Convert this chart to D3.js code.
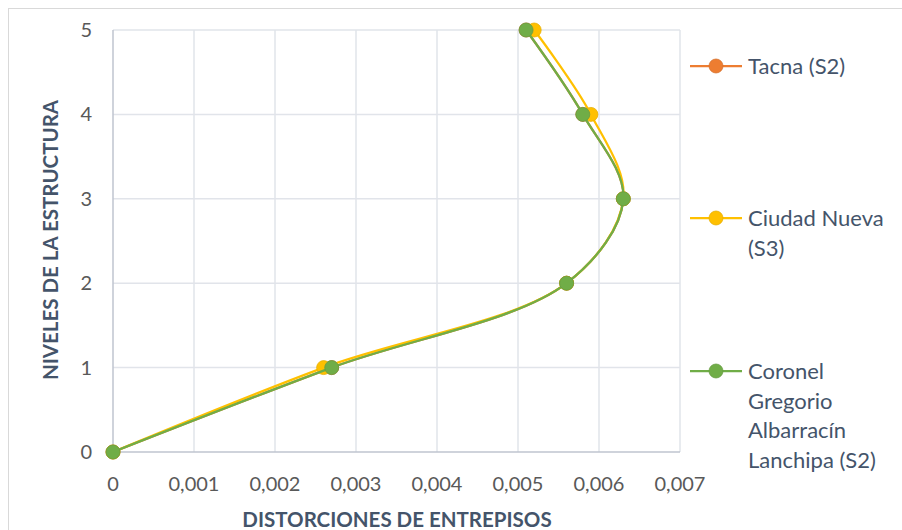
<!DOCTYPE html>
<html><head><meta charset="utf-8">
<script src="https://cdn.jsdelivr.net/npm/d3@7"></script>
<style>body{margin:0;background:#fff}svg{display:block}</style>
</head><body><svg id="c" width="902" height="530"></svg>
<script>
const levels = [0, 1, 2, 3, 4, 5];
const tacna = [0, 0.0027, 0.0056, 0.0063, 0.0058, 0.0051];
const ciudadNueva = [0, 0.0026, 0.0056, 0.0063, 0.0059, 0.0052];
const coronel = [0, 0.0027, 0.0056, 0.0063, 0.0058, 0.0051];
const seriesNames = [["Tacna (S2)"], ["Ciudad Nueva", "(S3)"], ["Coronel", "Gregorio", "Albarracín", "Lanchipa (S2)"]];
const seriesColors = ["#ED7D31", "#FFC000", "#70AD47"];
const xTicks = [0, 0.001, 0.002, 0.003, 0.004, 0.005, 0.006, 0.007];
const yTicks = [0, 1, 2, 3, 4, 5];
const xTitle = "DISTORCIONES DE ENTREPISOS";
const yTitle = "NIVELES DE LA ESTRUCTURA";

const svg = d3.select("#c");
const font = "Lato, 'Open Sans', sans-serif";
svg.append("rect").attr("x", 8.5).attr("y", 8.5).attr("width", 900).attr("height", 530)
  .attr("fill", "#fff").attr("stroke", "#D9D9D9");

const x = d3.scaleLinear().domain([0, 0.007]).range([113, 680]);
const y = d3.scaleLinear().domain([0, 5]).range([452, 30]);

const g = svg.append("g");
// gridlines
g.selectAll(".vg").data(xTicks.slice(1)).join("line")
  .attr("x1", d => x(d)).attr("x2", d => x(d)).attr("y1", y(0)).attr("y2", y(5))
  .attr("stroke", "#E1E4EA").attr("stroke-width", 1.5);
g.selectAll(".hg").data(yTicks.slice(1)).join("line")
  .attr("x1", x(0)).attr("x2", x(0.007)).attr("y1", d => y(d)).attr("y2", d => y(d))
  .attr("stroke", "#E1E4EA").attr("stroke-width", 1.5);
// axes lines
g.append("line").attr("x1", x(0)).attr("x2", x(0)).attr("y1", y(0)).attr("y2", y(5))
  .attr("stroke", "#BFC5CF").attr("stroke-width", 1.5);
g.append("line").attr("x1", x(0)).attr("x2", x(0.007)).attr("y1", y(0)).attr("y2", y(0))
  .attr("stroke", "#BFC5CF").attr("stroke-width", 1.5);

const fmt = d => d === 0 ? "0" : d3.format(".3f")(d).replace(".", ",");
// x tick labels
g.selectAll(".xt").data(xTicks).join("text")
  .attr("x", d => x(d)).attr("y", 491).attr("text-anchor", "middle")
  .attr("font-family", font).attr("font-size", 20).attr("fill", "#595959")
  .text(fmt);
g.selectAll(".yt").data(yTicks).join("text")
  .attr("x", 92).attr("y", d => y(d) + 7).attr("text-anchor", "end")
  .attr("font-family", font).attr("font-size", 20).attr("fill", "#595959")
  .text(d => d);
// titles
svg.append("text").attr("x", 397).attr("y", 527).attr("text-anchor", "middle")
  .attr("font-family", font).attr("font-weight", "bold").attr("font-size", 20.5).attr("fill", "#44546A")
  .text(xTitle);
svg.append("text").attr("transform", "translate(58,240) rotate(-90)").attr("text-anchor", "middle")
  .attr("font-family", font).attr("font-weight", "bold").attr("font-size", 20.5).attr("fill", "#44546A")
  .text(yTitle);

const allSeries = [tacna, ciudadNueva, coronel];
const line = d3.line().x(d => x(d[0])).y(d => y(d[1])).curve(d3.curveCatmullRom.alpha(0.5));
allSeries.forEach((vals, i) => {
  const pts = vals.map((v, j) => [v, levels[j]]);
  g.append("path").attr("d", line(pts)).attr("fill", "none")
    .attr("stroke", seriesColors[i]).attr("stroke-width", 2.25);
  g.selectAll(null).data(pts).join("circle")
    .attr("cx", d => x(d[0])).attr("cy", d => y(d[1])).attr("r", 7)
    .attr("fill", seriesColors[i]).attr("stroke", d3.color(seriesColors[i]).darker(0.3)).attr("stroke-width", 0.75);
});

// legend
const legY = [66, 218, 371];
const leg = svg.append("g");
seriesNames.forEach((lines, i) => {
  leg.append("line").attr("x1", 690).attr("x2", 742).attr("y1", legY[i]).attr("y2", legY[i])
    .attr("stroke", seriesColors[i]).attr("stroke-width", 2.25);
  leg.append("circle").attr("cx", 716).attr("cy", legY[i]).attr("r", 7)
    .attr("fill", seriesColors[i]).attr("stroke", d3.color(seriesColors[i]).darker(0.3)).attr("stroke-width", 0.75);
  lines.forEach((t, k) => {
    leg.append("text").attr("x", 748).attr("y", legY[i] + 8 + k * 29.5)
      .attr("font-family", font).attr("font-size", 22).attr("fill", "#44546A").text(t);
  });
});
</script></body></html>
